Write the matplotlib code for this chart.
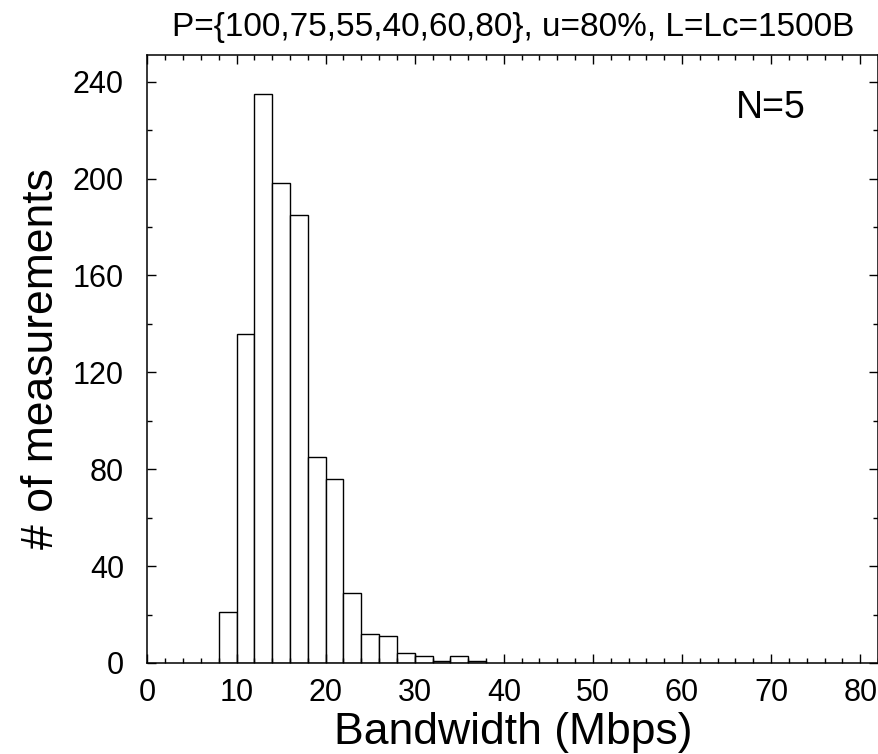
import numpy as np
import matplotlib
matplotlib.use("Agg")
import matplotlib.pyplot as plt
from matplotlib.ticker import MultipleLocator

# histogram bins (Mbps) and counts
bin_left = [8, 10, 12, 14, 16, 18, 20, 22, 24, 26, 28, 30, 32, 34, 36]
counts = [21, 136, 235, 198, 185, 85, 76, 29, 12, 11, 4, 3, 1, 3, 1]
bin_width = 2

title = "P={100,75,55,40,60,80}, u=80%, L=Lc=1500B"
note = "N=5"

plt.rcParams['font.family'] = ['Liberation Sans', 'DejaVu Sans']

fig = plt.figure(figsize=(8.79, 7.54), dpi=100)
ax = fig.add_axes([0.1678, 0.1207, 0.8311, 0.8064])

ax.bar(bin_left, counts, width=bin_width, align='edge',
       facecolor='white', edgecolor='black', linewidth=1.0)

ax.set_xlim(0, 82)
ax.set_ylim(0, 251)
ax.xaxis.set_major_locator(MultipleLocator(10))
ax.xaxis.set_minor_locator(MultipleLocator(2))
ax.yaxis.set_major_locator(MultipleLocator(40))
ax.yaxis.set_minor_locator(MultipleLocator(20))
ax.set_xticks(np.arange(0, 81, 10))

ax.tick_params(which='both', direction='in', top=True, right=True, width=1.0)
ax.tick_params(which='major', length=6.5, labelsize=22)
ax.tick_params(which='minor', length=3.3)
ax.tick_params(axis='x', which='major', pad=11)
ax.tick_params(axis='y', which='major', pad=17)
for s in ax.spines.values():
    s.set_linewidth(1.1)

ax.set_xlabel("Bandwidth (Mbps)", fontsize=32, labelpad=3)
ax.set_ylabel("# of measurements", fontsize=32, labelpad=8)
ax.set_title(title, fontsize=24, pad=14)
ax.text(70, 229, note, fontsize=27, ha='center', va='center')

fig.savefig("out.png", dpi=100)
